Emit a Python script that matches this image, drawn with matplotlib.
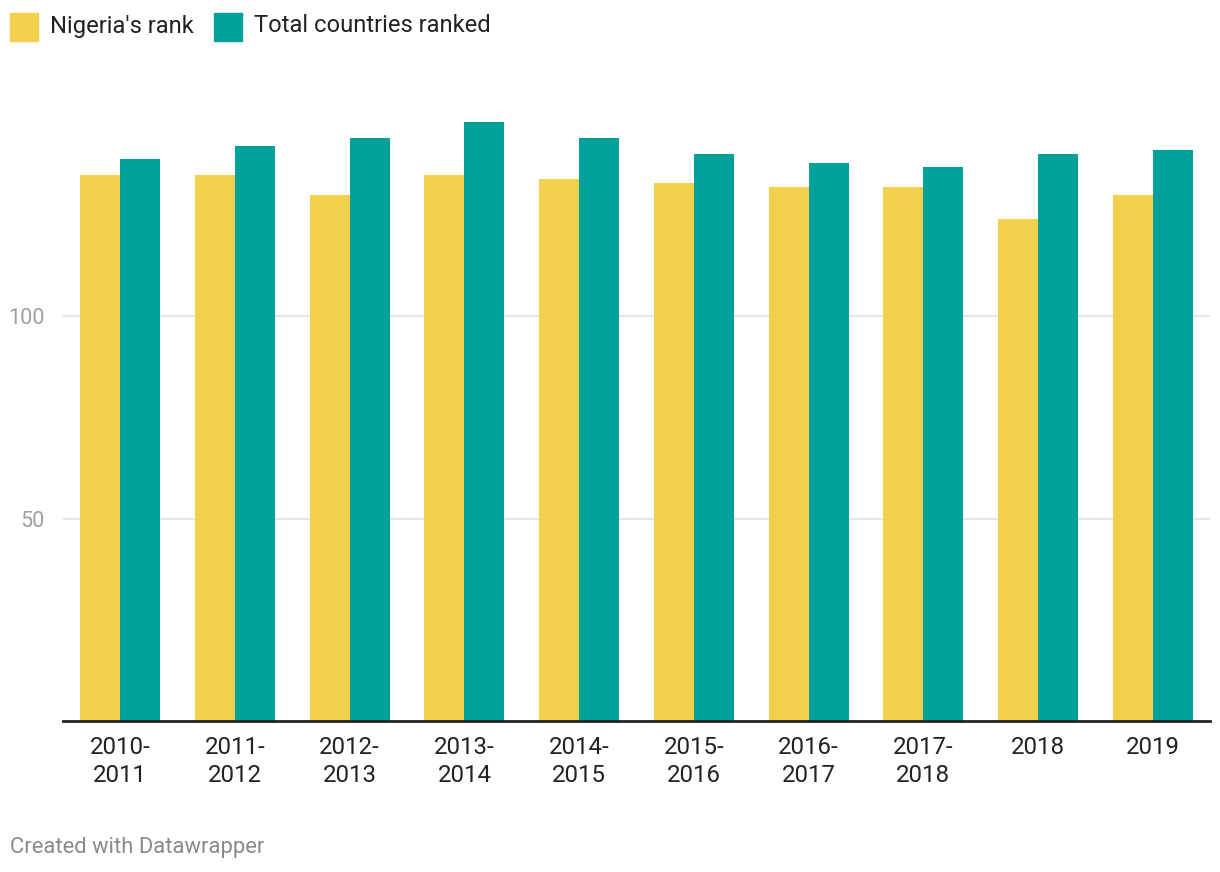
import matplotlib
matplotlib.use("Agg")
import matplotlib.pyplot as plt
from matplotlib.patches import Rectangle
import numpy as np

plt.rcParams['font.family'] = ['Roboto', 'DejaVu Sans']

categories = ["2010-\n2011", "2011-\n2012", "2012-\n2013", "2013-\n2014", "2014-\n2015",
              "2015-\n2016", "2016-\n2017", "2017-\n2018", "2018", "2019"]
nigeria_rank = [135, 135, 130, 135, 134, 133, 132, 132, 124, 130]
total_ranked = [139, 142, 144, 148, 144, 140, 138, 137, 140, 141]
series_names = ["Nigeria's rank", "Total countries ranked"]
colors = ["#f2d04b", "#00a19a"]
yticks = [50, 100]

W, H = 1220, 872
fig = plt.figure(figsize=(W / 100, H / 100), dpi=100)
left, right, bottom_px, top_px = 63, 1210, 721, 114
ax = fig.add_axes([left / W, 1 - bottom_px / H, (right - left) / W, (bottom_px - top_px) / H])

x = np.arange(len(categories))
bw = 40 / 114.7
ax.bar(x - bw / 2, nigeria_rank, width=bw, color=colors[0], zorder=2)
ax.bar(x + bw / 2, total_ranked, width=bw, color=colors[1], zorder=2)

ax.set_xlim(-0.5, len(categories) - 0.5)
ax.set_ylim(0, 150)
ax.set_yticks(yticks)
ax.set_yticklabels([str(v) for v in yticks], color="#a0a0a0", fontsize=15.6)
ax.tick_params(axis='y', length=0, pad=13)
ax.yaxis.grid(True, color="#e0e0e0", linewidth=1.2, zorder=0)
ax.set_xticks(x)
ax.set_xticklabels(categories, fontsize=17.3, color="#222222", linespacing=1.25)
ax.tick_params(axis='x', length=0, pad=11)
for s in ["top", "right", "left"]:
    ax.spines[s].set_visible(False)
ax.spines["bottom"].set_linewidth(2)
ax.spines["bottom"].set_color("#222222")
ax.spines["bottom"].set_zorder(3)

# legend
lx = [10, 214]
for i, name in enumerate(series_names):
    fig.patches.append(Rectangle((lx[i] / W, 1 - 41 / H), 28 / W, 28 / H,
                                 transform=fig.transFigure, color=colors[i]))
    fig.text((lx[i] + 40) / W, 1 - 26 / H, name, fontsize=17.1, color="#222222",
             va="center", ha="left")

fig.text(10 / W, 1 - 847 / H, "Created with Datawrapper", fontsize=15.8,
         color="#8a8a8a", va="center", ha="left")

fig.savefig("out.png", dpi=100, facecolor="white")
